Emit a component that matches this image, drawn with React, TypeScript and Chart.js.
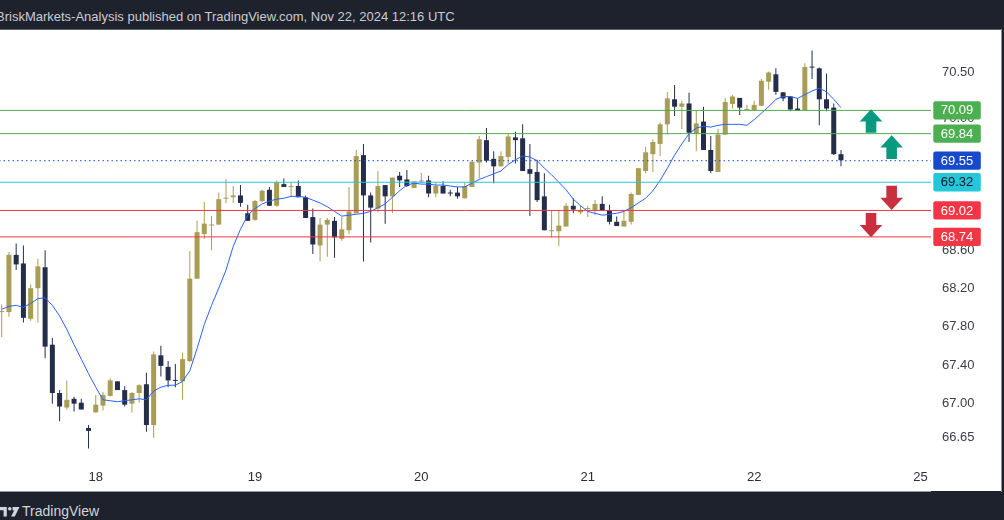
import React, { useEffect, useRef } from 'react';
import { Chart, registerables } from 'chart.js';

Chart.register(...registerables);

// ---- time axis ----
const dayTickIndex = [13, 35, 58, 81, 104, 127];
const dayTickLabels = ['18', '19', '20', '21', '22', '25'];

// ---- price axis ----
const priceTicks = [66.65, 67.0, 67.4, 67.8, 68.2, 68.6, 70.0, 70.5];

// ---- hourly candles ----
const opens = [
  67.95, 67.95, 68.55, 68.46, 67.88, 68.2, 68.42, 67.61, 67.11, 66.96,
  67.05, 67.01, 66.75, 66.91, 66.98, 67.08, 67.23, 67.14, 67.0, 67.11,
  67.2, 66.78, 67.5, 67.38, 67.24, 67.23, 67.44, 68.3, 68.77, 68.86,
  68.87, 69.145, 69.16, 69.18, 68.99, 68.92, 69.12, 69.24, 69.07, 69.3,
  69.268, 69.28, 69.16, 68.95, 68.65, 68.87, 68.91, 68.72, 68.81, 68.99,
  69.61, 69.18, 69.04, 69.29, 69.17, 69.39, 69.35, 69.26, 69.328, 69.34,
  69.2, 69.28, 69.205, 69.21, 69.15, 69.27, 69.53, 69.77, 69.57, 69.49,
  69.59, 69.8, 69.79, 69.46, 69.43, 69.17, 68.8, 68.8, 68.85, 69.07,
  69.0, 69.035, 69.02, 69.09, 69.025, 68.9, 68.85, 68.9, 69.185, 69.44,
  69.62, 69.73, 69.94, 70.21, 70.13, 70.165, 69.84, 69.97, 69.665, 69.43,
  69.83, 70.16, 70.225, 70.095, 70.095, 70.14, 70.4, 70.48, 70.285, 70.24,
  70.11, 70.09, 70.558, 70.545, 70.21, 70.12, 69.62,
];
const highs = [
  68.03, 68.58, 68.67, 68.65, 68.24, 68.51, 68.6, 67.68, 67.14, 67.24,
  67.07, 67.05, 66.78, 67.09, 67.12, 67.26, 67.23, 67.18, 67.12, 67.2,
  67.32, 67.54, 67.6, 67.44, 67.41, 67.53, 68.59, 68.91, 69.11, 68.96,
  69.21, 69.355, 69.28, 69.29, 69.08, 69.13, 69.24, 69.27, 69.34, 69.36,
  69.32, 69.34, 69.18, 69.04, 68.94, 68.94, 68.95, 68.95, 69.27, 69.665,
  69.73, 69.21, 69.44, 69.29, 69.37, 69.43, 69.45, 69.33, 69.42, 69.39,
  69.32, 69.33, 69.24, 69.27, 69.32, 69.54, 69.815, 69.9, 69.65, 69.65,
  69.84, 69.86, 69.94, 69.73, 69.56, 69.415, 69.025, 69.025, 69.1, 69.15,
  69.07, 69.07, 69.13, 69.17, 69.08, 68.955, 69.025, 69.21, 69.47, 69.7,
  69.78, 69.96, 70.29, 70.365, 70.195, 70.28, 70.095, 70.13, 69.815, 69.89,
  70.22, 70.26, 70.225, 70.15, 70.195, 70.43, 70.51, 70.545, 70.29, 70.24,
  70.22, 70.6, 70.74, 70.555, 70.49, 70.165, 69.665,
];
const lows = [
  67.69, 67.9, 68.39, 67.84, 67.86, 67.84, 67.47, 67.0, 66.82, 66.94,
  66.92, 66.94, 66.54, 66.91, 66.93, 67.07, 67.14, 66.97, 66.91, 67.01,
  66.71, 66.65, 67.28, 67.17, 67.17, 67.04, 67.43, 68.3, 68.72, 68.6,
  68.87, 69.1, 69.1, 69.06, 68.91, 68.91, 69.11, 69.07, 69.06, 69.27,
  69.17, 69.16, 68.94, 68.56, 68.48, 68.53, 68.52, 68.7, 68.77, 68.99,
  68.48, 68.68, 69.0, 68.88, 68.99, 69.27, 69.27, 69.26, 69.31, 69.16,
  69.16, 69.2, 69.17, 69.145, 69.145, 69.27, 69.36, 69.53, 69.31, 69.49,
  69.52, 69.52, 69.44, 68.96, 69.11, 68.81, 68.735, 68.64, 68.85, 68.99,
  68.98, 68.95, 68.97, 69.02, 68.87, 68.855, 68.85, 68.87, 69.185, 69.415,
  69.43, 69.6, 69.83, 70.03, 69.89, 69.75, 69.65, 69.665, 69.42, 69.43,
  69.83, 70.11, 70.04, 70.095, 70.095, 70.14, 70.31, 70.26, 70.19, 70.08,
  70.085, 70.09, 70.43, 69.93, 70.08, 69.61, 69.49,
];
const closes = [
  67.96, 68.55, 68.45, 67.89, 68.2, 68.43, 67.59, 67.11, 66.97, 67.04,
  67.0, 66.94, 66.72, 66.99, 67.09, 67.24, 67.14, 66.99, 67.11, 67.19,
  66.78, 67.51, 67.39, 67.24, 67.235, 67.46, 68.3, 68.79, 68.88, 68.865,
  69.14, 69.15, 69.18, 69.1, 68.91, 69.12, 69.23, 69.07, 69.32, 69.27,
  69.272, 69.16, 68.94, 68.66, 68.87, 68.92, 68.735, 68.82, 69.01, 69.6,
  69.18, 69.05, 69.28, 69.17, 69.37, 69.34, 69.28, 69.33, 69.332, 69.2,
  69.28, 69.2, 69.2, 69.17, 69.28, 69.54, 69.78, 69.55, 69.49, 69.6,
  69.81, 69.77, 69.44, 69.41, 69.13, 68.81, 68.805, 68.86, 69.07, 69.03,
  69.025, 69.037, 69.09, 69.02, 68.9, 68.855, 68.91, 69.195, 69.47, 69.64,
  69.75, 69.94, 70.22, 70.13, 70.165, 69.85, 69.95, 69.665, 69.44, 69.83,
  70.18, 70.24, 70.12, 70.105, 70.15, 70.41, 70.5, 70.29, 70.22, 70.1,
  70.085, 70.56, 70.553, 70.21, 70.11, 69.62, 69.555,
];

// ---- moving average ----
const maValues = [
  67.98, 68.01, 68.02, 68.0, 68.04, 68.09, 68.1, 68.02, 67.91, 67.77,
  67.61, 67.46, 67.31, 67.17, 67.04, 67.03, 67.02, 67.03, 67.04, 67.05,
  67.04, 67.13, 67.17, 67.19, 67.19, 67.23, 67.34, 67.57, 67.82, 68.02,
  68.2, 68.39, 68.64, 68.82, 68.97, 69.04, 69.09, 69.12, 69.14, 69.15,
  69.17, 69.17, 69.16, 69.13, 69.1, 69.06, 69.01, 68.96, 68.97, 68.98,
  68.99, 69.01, 69.05, 69.09, 69.16, 69.23, 69.29, 69.31, 69.3, 69.3,
  69.29, 69.29, 69.28, 69.27, 69.27, 69.31, 69.35, 69.38, 69.41, 69.44,
  69.51, 69.56, 69.6, 69.59, 69.55, 69.47, 69.4, 69.32, 69.24, 69.14,
  69.07, 69.01, 68.99, 68.97, 68.98, 68.99, 69.01, 69.05, 69.1, 69.15,
  69.23, 69.34, 69.47, 69.61, 69.73, 69.84, 69.9, 69.92, 69.91, 69.93,
  69.94, 69.94, 69.94, 69.93, 69.99, 70.06, 70.13, 70.21, 70.24, 70.24,
  70.22, 70.26, 70.3, 70.33, 70.29, 70.21, 70.12,
];

// ---- horizontal levels ----
const levelPrices = [70.09, 69.84, 69.55, 69.32, 69.02, 68.74];
const levelLabels = ['70.09', '69.84', '69.55', '69.32', '69.02', '68.74'];
const levelLineColors = ['#4caf50', '#4caf50', '#1848cc', '#26c6da', '#f23645', '#f23645'];
const levelTagColors = ['#4caf50', '#4caf50', '#1848cc', '#26c6da', '#f23645', '#f23645'];
const levelTagText = ['#ffffff', '#ffffff', '#ffffff', '#131722', '#ffffff', '#ffffff'];
const levelDotted = [false, false, true, false, false, false];

// ---- arrows (bar index, tail price, tip price) ----
const arrowIndex = [120.15, 123.0, 123.0, 120.15];
const arrowTail = [69.851, 69.569, 69.284, 68.993];
const arrowTip = [70.102, 69.823, 69.025, 68.737];
const arrowColors = ['#089981', '#089981', '#c9303e', '#c9303e'];

const X_MIN = -0.235;
const X_MAX = 128.44;
const Y_MIN = 66.371;
const Y_MAX = 70.962;

const UP = '#a99d55';
const DOWN = '#242e4a';
const FONT = "'Liberation Sans', Arial, sans-serif";

const overlayPlugin = {
  id: 'overlay',
  afterDatasetsDraw(chart: any) {
    const { ctx, scales } = chart;
    const x = scales.x;
    const y = scales.y;
    ctx.save();
    for (let i = 0; i < arrowIndex.length; i++) {
      const cx = x.getPixelForValue(arrowIndex[i]);
      const yTail = y.getPixelForValue(arrowTail[i]);
      const yTip = y.getPixelForValue(arrowTip[i]);
      const dir = yTip < yTail ? -1 : 1;
      const headLen = 12.3;
      const hh = 11.3;
      const sh = 5.3;
      const yb = yTip - dir * headLen;
      ctx.beginPath();
      ctx.moveTo(cx, yTip);
      ctx.lineTo(cx + hh, yb);
      ctx.lineTo(cx + sh, yb);
      ctx.lineTo(cx + sh, yTail);
      ctx.lineTo(cx - sh, yTail);
      ctx.lineTo(cx - sh, yb);
      ctx.lineTo(cx - hh, yb);
      ctx.closePath();
      ctx.fillStyle = arrowColors[i];
      ctx.fill();
    }
    ctx.restore();
  },
  afterDraw(chart: any) {
    const { ctx, scales, chartArea } = chart;
    const y = scales.y;
    ctx.save();
    const left = chartArea.right + 2.3;
    const w = 47.5;
    const h = 18.3;
    for (let i = 0; i < levelPrices.length; i++) {
      const cy = y.getPixelForValue(levelPrices[i]);
      const top = cy - h / 2;
      const r = 2;
      ctx.beginPath();
      ctx.moveTo(left + r, top);
      ctx.lineTo(left + w - r, top);
      ctx.quadraticCurveTo(left + w, top, left + w, top + r);
      ctx.lineTo(left + w, top + h - r);
      ctx.quadraticCurveTo(left + w, top + h, left + w - r, top + h);
      ctx.lineTo(left + r, top + h);
      ctx.quadraticCurveTo(left, top + h, left, top + h - r);
      ctx.lineTo(left, top + r);
      ctx.quadraticCurveTo(left, top, left + r, top);
      ctx.closePath();
      ctx.fillStyle = levelTagColors[i];
      ctx.fill();
      ctx.fillStyle = levelTagText[i];
      ctx.font = `13px ${FONT}`;
      ctx.textAlign = 'center';
      ctx.textBaseline = 'middle';
      ctx.fillText(levelLabels[i], left + w / 2, cy + 0.5);
    }
    ctx.restore();
  },
};

export default function App() {
  const ref = useRef<HTMLCanvasElement>(null);

  useEffect(() => {
    const canvas = ref.current;
    if (!canvas) return;
    const up = closes.map((c, i) => c >= opens[i]);
    const candleColors = up.map((u) => (u ? UP : DOWN));

    const levelSets = levelPrices.map((p, i) => ({
      type: 'line',
      data: [
        { x: X_MIN - 2, y: p },
        { x: X_MAX + 2, y: p },
      ],
      borderColor: levelLineColors[i],
      borderWidth: 1,
      borderDash: levelDotted[i] ? [1.5, 3] : [],
      pointRadius: 0,
      fill: false,
      order: 1,
    }));

    const chart = new Chart(canvas, {
      type: 'bar',
      data: {
        datasets: [
          ...levelSets,
          {
            type: 'line',
            data: maValues.map((v, i) => ({ x: i, y: v })),
            borderColor: '#2962ff',
            borderWidth: 1,
            pointRadius: 0,
            tension: 0,
            fill: false,
            order: 2,
          },
          {
            type: 'bar',
            data: opens.map((o, i) => ({ x: i, y: [o, closes[i]] })),
            backgroundColor: candleColors,
            grouped: false,
            maxBarThickness: 5,
            minBarLength: 1,
            borderWidth: 0,
            borderSkipped: false,
            order: 3,
          },
          {
            type: 'bar',
            data: lows.map((l, i) => ({ x: i, y: [l, highs[i]] })),
            backgroundColor: candleColors,
            grouped: false,
            maxBarThickness: 1,
            borderWidth: 0,
            borderSkipped: false,
            order: 4,
          },
        ] as any,
      },
      options: {
        responsive: false,
        animation: false,
        events: [],
        layout: { padding: { left: 0, right: 0, top: 30, bottom: 28 } },
        plugins: {
          legend: { display: false },
          tooltip: { enabled: false },
        },
        scales: {
          x: {
            type: 'linear',
            min: X_MIN,
            max: X_MAX,
            offset: false,
            bounds: 'data',
            grid: { display: false, drawTicks: false },
            border: { display: false },
            ticks: {
              autoSkip: false,
              maxRotation: 0,
              padding: 5,
              color: '#2a2e39',
              font: { family: FONT, size: 13 },
              callback: (v: any) => {
                const idx = dayTickIndex.indexOf(Number(v));
                return idx >= 0 ? dayTickLabels[idx] : '';
              },
            },
            afterBuildTicks: (s: any) => {
              s.ticks = dayTickIndex.map((value) => ({ value }));
            },
            afterFit: (s: any) => {
              s.height = 27;
            },
          },
          y: {
            type: 'logarithmic',
            position: 'right',
            min: Y_MIN,
            max: Y_MAX,
            bounds: 'data',
            grid: { display: false, drawTicks: false },
            border: { display: false },
            ticks: {
              autoSkip: false,
              padding: 11,
              color: '#3b3e47',
              font: { family: FONT, size: 13 },
              callback: (v: any) => Number(v).toFixed(2),
            },
            afterBuildTicks: (s: any) => {
              s.ticks = priceTicks.map((value) => ({ value }));
            },
            afterFit: (s: any) => {
              s.width = 73;
            },
          },
        },
      } as any,
      plugins: [overlayPlugin as any],
    });
    return () => chart.destroy();
  }, []);

  return (
    <div
      style={{
        position: 'fixed',
        left: 0,
        top: 0,
        width: 1004,
        height: 520,
        background: '#1e222d',
        overflow: 'hidden',
      }}
    >
      <div
        style={{
          position: 'absolute',
          left: -4,
          top: 7,
          color: '#c9ccd4',
          fontFamily: FONT,
          fontSize: 13,
          lineHeight: '20px',
          whiteSpace: 'nowrap',
        }}
      >
        BriskMarkets-Analysis published on TradingView.com, Nov 22, 2024 12:16 UTC
      </div>
      <div style={{ position: 'absolute', left: 0, top: 29, width: 1002, height: 1, background: '#5d606b' }} />
      <div style={{ position: 'absolute', left: 0, top: 30, width: 1001, height: 461, background: '#ffffff' }} />
      <div style={{ position: 'absolute', left: 1001, top: 29, width: 1, height: 463, background: '#8a8d96' }} />
      <div style={{ position: 'absolute', left: 0, top: 491, width: 931, height: 1, background: '#9598a1' }} />
      <svg
        style={{ position: 'absolute', left: 0, top: 507 }}
        width="20"
        height="10"
        viewBox="0 0 20 10"
      >
        <path d="M0 0 H6.8 V9.5 H3.6 V3.2 H0 Z" fill="#d1d4dc" />
        <circle cx="9.8" cy="1.8" r="1.8" fill="#d1d4dc" />
        <path d="M12.6 0 H19.5 L14.8 9.5 H11 L14.2 3.4 H12.6 Z" fill="#d1d4dc" />
      </svg>
      <div
        style={{
          position: 'absolute',
          left: 22,
          top: 503,
          color: '#d1d4dc',
          fontFamily: FONT,
          fontSize: 14,
          lineHeight: '16px',
          whiteSpace: 'nowrap',
        }}
      >
        TradingView
      </div>
      <canvas
        ref={ref}
        width={1004}
        height={520}
        style={{ position: 'absolute', left: 0, top: 0, width: 1004, height: 520 }}
      />
    </div>
  );
}
